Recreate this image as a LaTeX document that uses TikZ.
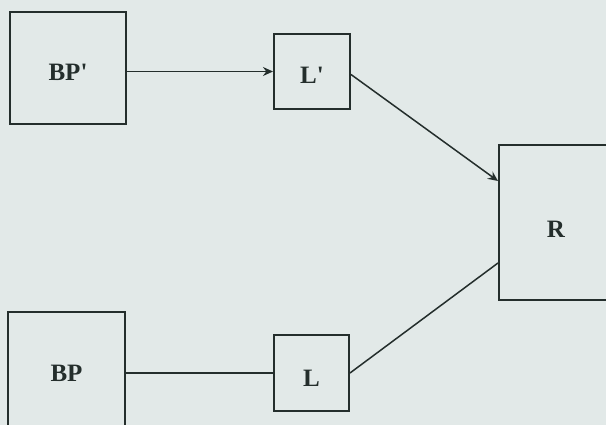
\documentclass[tikz,border=0pt]{standalone}
\usepackage{fontspec}
\setmainfont{Liberation Serif}
\usetikzlibrary{arrows.meta}
\definecolor{paper}{RGB}{226,233,232}
\definecolor{ink}{RGB}{36,46,44}
\tikzset{
  blk/.style={draw=ink, line width=2pt, inner sep=0pt, text=ink,
    text depth=0pt, text height=17pt,
    font=\fontsize{25}{27}\selectfont\bfseries},
  conn/.style={draw=ink, line width=1.5pt},
  arr/.style={conn, -{Stealth[length=10pt,width=9pt]}}
}
\begin{document}
\begin{tikzpicture}[x=1pt,y=-1pt]
  \useasboundingbox (0,0) rectangle (606,425);
  \fill[paper] (0,0) rectangle (606,425);
  \clip (0,0) rectangle (606,425);
  \node[blk, text height=25pt, minimum width=116pt, minimum height=112pt] (BPp) at (68,68) {BP\textquotesingle};
  \node[blk, text height=24pt, minimum width=76pt, minimum height=75pt] (Lp) at (312,71.5) {L\textquotesingle};
  \node[blk, text height=31pt, minimum width=114pt, minimum height=155pt] (R) at (556,222.5) {R\hspace{8pt}};
  \node[blk, minimum width=117pt, minimum height=122pt] (BP) at (66.5,373) {BP};
  \node[blk, text height=27pt, minimum width=75pt, minimum height=76pt] (L) at (311.5,373) {L};
  \draw[arr] (Lp.west -| BPp.east) -- (Lp.west);
  \draw[arr] ([yshift=-3pt]Lp.east) -- ([yshift=-37pt]R.north west);
  \draw[conn] (BP.east) -- (L.west);
  \draw[conn] (L.east) -- ([yshift=38pt]R.south west);
\end{tikzpicture}
\end{document}
